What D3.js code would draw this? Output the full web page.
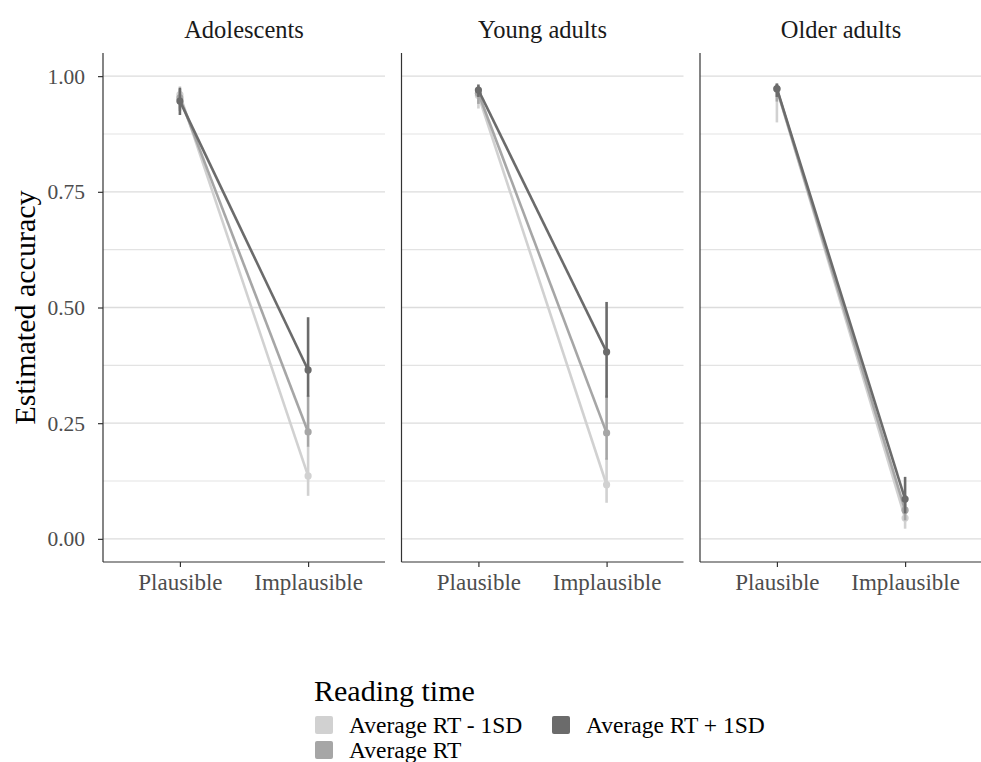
<!DOCTYPE html>
<html>
<head>
<meta charset="utf-8">
<script src="https://cdn.jsdelivr.net/npm/d3@7"></script>
<style>
  body { margin: 0; background: #fff; }
  svg { font-family: "Liberation Serif", "DejaVu Serif", serif; }
</style>
</head>
<body>
<svg id="chart" width="981" height="762"></svg>
<script>
// data
const groups = ["Adolescents", "Young adults", "Older adults"];
const conditions = ["Plausible", "Implausible"];
const rtLevels = ["Average RT - 1SD", "Average RT", "Average RT + 1SD"];
const rtColors = ["#d1d1d1", "#a6a6a6", "#6b6b6b"];

// estimate / lower / upper, per group, per rt level, per condition
const estAdolescents = [[0.960, 0.136], [0.953, 0.231], [0.946, 0.365]];
const lowAdolescents = [[0.930, 0.093], [0.925, 0.199], [0.916, 0.307]];
const uppAdolescents = [[0.978, 0.200], [0.972, 0.310], [0.975, 0.479]];

const estYoung = [[0.958, 0.117], [0.963, 0.229], [0.970, 0.404]];
const lowYoung = [[0.930, 0.078], [0.940, 0.171], [0.955, 0.305]];
const uppYoung = [[0.975, 0.175], [0.978, 0.310], [0.982, 0.512]];

const estOlder = [[0.972, 0.045], [0.972, 0.062], [0.973, 0.086]];
const lowOlder = [[0.900, 0.022], [0.945, 0.040], [0.955, 0.055]];
const uppOlder = [[0.985, 0.075], [0.983, 0.095], [0.984, 0.134]];

const yTicks = [0, 0.25, 0.5, 0.75, 1];
const yMinor = [0.125, 0.375, 0.625, 0.875];

const est = [estAdolescents, estYoung, estOlder];
const low = [lowAdolescents, lowYoung, lowOlder];
const upp = [uppAdolescents, uppYoung, uppOlder];

// layout
const svg = d3.select("#chart");
const padL = 103, panelW = 282, gap = 16.5, padT = 53, padB = 562;

const y = d3.scaleLinear().domain([-0.05, 1.05]).range([padB, padT]);
const x = d3.scalePoint().domain(conditions).range([0, panelW]).padding(0.6);

groups.forEach(function(g, gi) {
  let px = padL + gi * (panelW + gap);
  let p = svg.append("g").attr("transform", `translate(${px},0)`);

  // grid
  p.selectAll("line.minor").data(yMinor).enter().append("line")
    .attr("x1", 0).attr("x2", panelW)
    .attr("y1", d => y(d)).attr("y2", d => y(d))
    .attr("stroke", "#e3e3e3").attr("stroke-width", 1.1);
  p.selectAll("line.major").data(yTicks).enter().append("line")
    .attr("x1", 0).attr("x2", panelW)
    .attr("y1", d => y(d)).attr("y2", d => y(d))
    .attr("stroke", "#dcdcdc").attr("stroke-width", 1.3);

  // strip label
  p.append("text")
    .attr("x", panelW / 2).attr("y", 38)
    .attr("text-anchor", "middle")
    .attr("font-size", 24.5).attr("fill", "#1a1a1a")
    .text(g);

  // x axis
  p.append("g")
    .attr("transform", `translate(0,${padB})`)
    .call(d3.axisBottom(x).tickSize(5).tickPadding(7))
    .call(a => a.select(".domain").attr("stroke", "#333").attr("stroke-width", 1.2)
      .attr("d", `M0,0H${panelW}`))
    .call(a => a.selectAll(".tick line").attr("stroke", "#333").attr("stroke-width", 1.2))
    .call(a => a.selectAll(".tick text").attr("font-size", 23)
      .attr("font-family", "Liberation Serif").attr("fill", "#4d4d4d"));

  // y axis line
  p.append("line")
    .attr("x1", 0).attr("x2", 0).attr("y1", padT).attr("y2", padB)
    .attr("stroke", "#333").attr("stroke-width", 1.2);

  if (gi === 0) {
    p.append("g")
      .call(d3.axisLeft(y).tickValues(yTicks).tickFormat(d3.format(".2f")).tickSize(5).tickPadding(13))
      .call(a => a.select(".domain").remove())
      .call(a => a.selectAll(".tick line").attr("stroke", "#333").attr("stroke-width", 1.2))
      .call(a => a.selectAll(".tick text").attr("font-size", 21.5)
        .attr("font-family", "Liberation Serif").attr("fill", "#4d4d4d"));
  }

  // series
  rtLevels.forEach(function(r, ri) {
    let pts = conditions.map((c, ci) => ({
      c: c, v: est[gi][ri][ci], lo: low[gi][ri][ci], hi: upp[gi][ri][ci]
    }));
    let s = p.append("g").attr("class", "series");
    s.append("path")
      .datum(pts)
      .attr("fill", "none")
      .attr("stroke", rtColors[ri])
      .attr("stroke-width", 2.6)
      .attr("d", d3.line().x(d => x(d.c)).y(d => y(d.v)));
    s.selectAll("line.err").data(pts).enter().append("line")
      .attr("x1", d => x(d.c)).attr("x2", d => x(d.c))
      .attr("y1", d => y(d.lo)).attr("y2", d => y(d.hi))
      .attr("stroke", rtColors[ri]).attr("stroke-width", 2.6);
    s.selectAll("circle").data(pts).enter().append("circle")
      .attr("cx", d => x(d.c)).attr("cy", d => y(d.v)).attr("r", 3.6)
      .attr("fill", rtColors[ri]);
  });
});

// y axis title
svg.append("text")
  .attr("transform", `translate(35,${(padT + padB) / 2}) rotate(-90)`)
  .attr("text-anchor", "middle")
  .attr("font-size", 30)
  .text("Estimated accuracy");

// legend
const lg = svg.append("g");
lg.append("text").attr("x", 314).attr("y", 701).attr("font-size", 30).text("Reading time");
const legPos = [[315, 716], [315, 741], [552, 716]];
rtLevels.forEach(function(r, ri) {
  let [lx, ly] = legPos[ri];
  lg.append("rect")
    .attr("x", lx).attr("y", ly).attr("width", 18).attr("height", 18).attr("rx", 2)
    .attr("fill", rtColors[ri]);
  lg.append("text")
    .attr("x", lx + 34).attr("y", ly + 17)
    .attr("font-size", 23.5)
    .text(r);
});
</script>
</body>
</html>
